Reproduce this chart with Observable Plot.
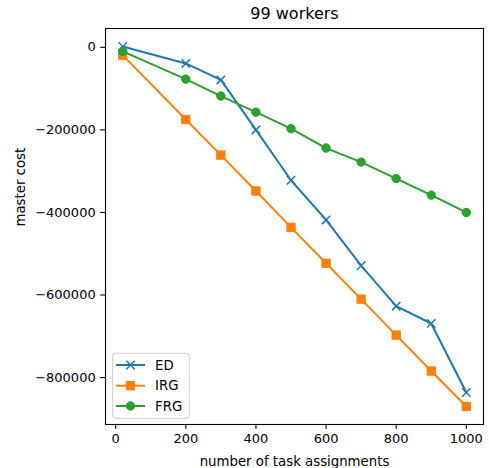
<!DOCTYPE html>
<html><head><meta charset="utf-8">
<script src="https://cdn.jsdelivr.net/npm/d3@7"></script>
<script src="https://cdn.jsdelivr.net/npm/@observablehq/plot@0.6"></script>
<style>body{margin:0;background:#fff}</style>
</head><body><div id="chart"></div>
<script>
const title = "99 workers";
const xLabel = "number of task assignments";
const yLabel = "master cost";
const assignments = [20, 200, 300, 400, 500, 600, 700, 800, 900, 1000];
const edCost = [2000, -39000, -79000, -200000, -322000, -418000, -529000, -627000, -669000, -836000];
const irgCost = [-19000, -175000, -261000, -348000, -436000, -523000, -610000, -697000, -784000, -870000];
const frgCost = [-10000, -77000, -118000, -157000, -197000, -244000, -278000, -318000, -358000, -400000];
const seriesNames = ["ED", "IRG", "FRG"];
const seriesColors = ["#1f77b4", "#ff7f0e", "#2ca02c"];
const seriesSymbols = ["times", "square", "circle"];
const xTicks = [0, 200, 400, 600, 800, 1000];
const yTicks = [0, -200000, -400000, -600000, -800000];

const seriesValues = [edCost, irgCost, frgCost];
const data = seriesNames.flatMap((name, i) =>
  assignments.map((x, j) => ({series: name, x, y: seriesValues[i][j]})));

const symbolR = {times: 3.9, square: 4.7, circle: 4.2};

const marks = [];
seriesNames.forEach((name, i) => {
  const rows = data.filter(d => d.series === name);
  const c = seriesColors[i];
  const sym = seriesSymbols[i];
  marks.push(Plot.line(rows, {x: "x", y: "y", stroke: c, strokeWidth: 2}));
  marks.push(Plot.dot(rows, {x: "x", y: "y", symbol: sym, r: symbolR[sym],
    fill: sym === "times" ? "none" : c, stroke: c, strokeWidth: sym === "times" ? 1.5 : 1}));
});

const chart = Plot.plot({
  width: 489, height: 468,
  marginLeft: 105, marginRight: 6, marginTop: 28, marginBottom: 44,
  style: {fontFamily: "DejaVu Sans", fontSize: "13px", color: "black", background: "white"},
  x: {domain: [-29, 1049]},
  y: {domain: [-913600, 45600]},
  marks: [
    ...marks,
    Plot.frame({stroke: "black", strokeWidth: 1.1}),
    Plot.axisX({ticks: xTicks, tickSize: 4.8, tickPadding: 4, tickFormat: d3.format("d"), label: null, fontSize: 13, strokeWidth: 1.1}),
    Plot.axisY({ticks: yTicks, tickSize: 4.8, tickPadding: 5, tickFormat: d3.format("d"), label: null, fontSize: 13, strokeWidth: 1.1}),
    Plot.text([title], {text: d => d, frameAnchor: "top", lineAnchor: "middle", dy: -14.5, fontSize: 16}),
    Plot.text([xLabel], {text: d => d, frameAnchor: "bottom", lineAnchor: "middle", dy: 37, fontSize: 13.3}),
    Plot.text([yLabel], {text: d => d, frameAnchor: "left", lineAnchor: "middle", rotate: -90, dx: -85, fontSize: 13.3})
  ]
});
document.getElementById("chart").appendChild(chart);

// legend in the lower-left corner of the plot area
const svg = d3.select(chart);
const lg = svg.append("g").attr("font-family", "DejaVu Sans").attr("font-size", 13.3).attr("text-anchor", "start");
lg.append("rect").attr("x", 112.7).attr("y", 353.3).attr("width", 76.6).attr("height", 65)
  .attr("rx", 3).attr("fill", "white").attr("fill-opacity", 0.8).attr("stroke", "#cccccc").attr("stroke-width", 1);
const rowY = [365, 385.7, 406];
seriesNames.forEach((name, i) => {
  const y = rowY[i], c = seriesColors[i], sym = seriesSymbols[i];
  lg.append("line").attr("x1", 116).attr("x2", 145).attr("y1", y).attr("y2", y).attr("stroke", c).attr("stroke-width", 2);
  const symType = sym === "times" ? d3.symbolTimes : sym === "square" ? d3.symbolSquare : d3.symbolCircle;
  const r = symbolR[sym];
  lg.append("path").attr("d", d3.symbol(symType, Math.PI * r * r)())
    .attr("transform", `translate(130.5,${y})`)
    .attr("fill", sym === "times" ? "none" : c).attr("stroke", c).attr("stroke-width", sym === "times" ? 1.5 : 1);
  lg.append("text").attr("x", 155).attr("y", y).attr("dy", "0.35em").attr("fill", "black")
    .attr("text-anchor", "start").text(name);
});
</script>
</body></html>
